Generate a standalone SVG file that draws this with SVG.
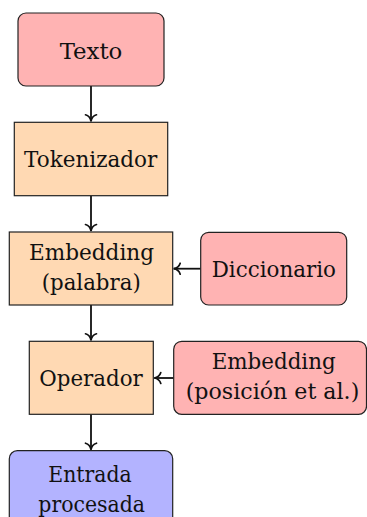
<svg xmlns="http://www.w3.org/2000/svg" width="367" height="517" viewBox="0 0 367 517">
<defs>
<style>
.red{fill:#FFB3B3;stroke:#222;stroke-width:1.2}
.org{fill:#FFD9B3;stroke:#222;stroke-width:1.2}
.blu{fill:#B3B3FF;stroke:#222;stroke-width:1.2}
text{font-family:"DejaVu Serif","Liberation Serif",serif;font-size:22px;fill:#111;text-anchor:middle}
.conn{stroke:#111;stroke-width:1.8;fill:none;marker-end:url(#arr)}
</style>
<marker id="arr" markerUnits="userSpaceOnUse" markerWidth="16" markerHeight="16" refX="0" refY="0" viewBox="-9 -8 11 16" orient="auto" overflow="visible">
<path d="M-6.5,-5.5 C-5.5,-2.2 -2.8,-0.5 0,0 C-2.8,0.5 -5.5,2.2 -6.5,5.5" fill="none" stroke="#111" stroke-width="1.7" stroke-linecap="round"/>
</marker>
</defs>
<g id="connectors">
<line class="conn" x1="91" y1="86" x2="91" y2="121.3"/>
<line class="conn" x1="91" y1="195.7" x2="91" y2="231"/>
<line class="conn" x1="91" y1="305" x2="91" y2="340.3"/>
<line class="conn" x1="91" y1="414.3" x2="91" y2="449.7"/>
<line class="conn" x1="200.7" y1="268.7" x2="173.7" y2="268.7"/>
<line class="conn" x1="173.7" y1="378" x2="154.3" y2="378"/>
</g>
<g id="texto">
<rect class="red" x="18" y="13" width="146" height="73" rx="8"/>
<text x="91" y="59.3" textLength="62.7" lengthAdjust="spacingAndGlyphs">Texto</text>
</g>
<g id="tokenizador">
<rect class="org" x="14.3" y="122.3" width="153.4" height="73.4"/>
<text x="90.7" y="166.7" textLength="133.3" lengthAdjust="spacingAndGlyphs">Tokenizador</text>
</g>
<g id="embedding-palabra">
<rect class="org" x="9.3" y="232" width="163.4" height="73"/>
<text x="91.5" y="260" textLength="125" lengthAdjust="spacingAndGlyphs">Embedding</text>
<text x="91.2" y="289.5" textLength="99" lengthAdjust="spacingAndGlyphs">(palabra)</text>
</g>
<g id="diccionario">
<rect class="red" x="200.7" y="232.3" width="146" height="72.7" rx="8"/>
<text x="273.8" y="276.7" textLength="124.3" lengthAdjust="spacingAndGlyphs">Diccionario</text>
</g>
<g id="operador">
<rect class="org" x="29.3" y="341.3" width="124" height="73"/>
<text x="91" y="386" textLength="103.4" lengthAdjust="spacingAndGlyphs">Operador</text>
</g>
<g id="embedding-posicion">
<rect class="red" x="173.7" y="341.3" width="192.8" height="73" rx="8"/>
<text x="273.7" y="369" textLength="124" lengthAdjust="spacingAndGlyphs">Embedding</text>
<text x="272.5" y="399.3" textLength="173.6" lengthAdjust="spacingAndGlyphs">(posición et al.)</text>
</g>
<g id="entrada-procesada">
<rect class="blu" x="9.3" y="450.7" width="163.4" height="80" rx="8"/>
<text x="90" y="482.3" textLength="83.4" lengthAdjust="spacingAndGlyphs">Entrada</text>
<text x="91.7" y="512.3" textLength="106.7" lengthAdjust="spacingAndGlyphs">procesada</text>
</g>
</svg>
